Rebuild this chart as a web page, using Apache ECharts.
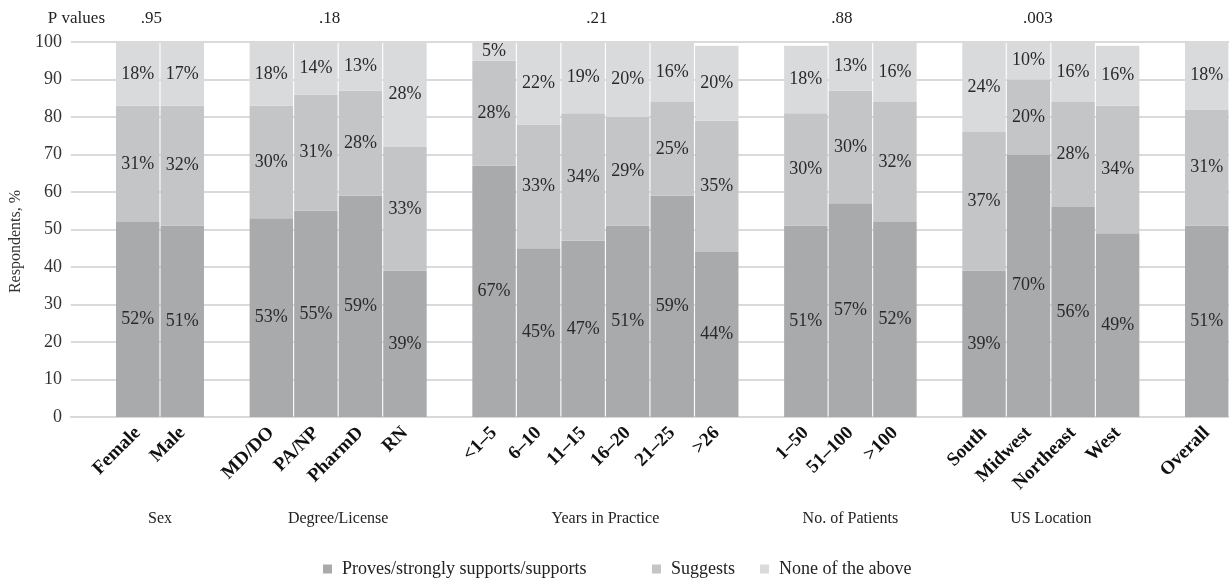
<!DOCTYPE html>
<html><head><meta charset="utf-8">
<script src="https://cdn.jsdelivr.net/npm/echarts@6/dist/echarts.min.js"></script>
<style>html,body{margin:0;padding:0;background:#fff}#c{width:1229px;height:587px}</style>
</head><body><div id="c"></div>
<script>
// ---- data ----
const categories = ['Female','Male','MD/DO','PA/NP','PharmD','RN','<1–5','6–10','11–15','16–20','21–25','>26','1–50','51–100','>100','South','Midwest','Northeast','West','Overall'];
const groupNames = ['Sex','Degree/License','Years in Practice','No. of Patients','US Location',''];
const groupSizes = [2,4,6,3,4,1];
const pValues = ['.95','.18','.21','.88','.003',''];
const pLabel = 'P values';
const proves   = [52,51,53,55,59,39,67,45,47,51,59,44,51,57,52,39,70,56,49,51];
const suggests = [31,32,30,31,28,33,28,33,34,29,25,35,30,30,32,37,20,28,34,31];
const noneAbove= [18,17,18,14,13,28, 5,22,19,20,16,20,18,13,16,24,10,16,16,18];
const seriesNames = ['Proves/strongly supports/supports','Suggests','None of the above'];
const yAxisName = 'Respondents, %';

// ---- build slots (a blank slot before each group) ----
const slots = [], slotIdx = [], groupFirst = [], groupLast = [];
let k = 0;
groupSizes.forEach((n, g) => {
  slots.push(' '.repeat(g + 1));
  groupFirst.push(slots.length);
  for (let i = 0; i < n; i++) { slotIdx.push(slots.length); slots.push(categories[k++]); }
  groupLast.push(slots.length - 1);
});
function expand(arr) { const out = slots.map(() => '-'); slotIdx.forEach((s, i) => out[s] = arr[i]); return out; }

const FONT = "'Liberation Serif', 'Times New Roman', serif";
const colors = ['#a9aaac', '#c4c5c7', '#d9dadc'];
const chart = echarts.init(document.getElementById('c'));

function mkSeries(name, data, color) {
  return {
    name, type: 'bar', stack: 'all', data: expand(data),
    barCategoryGap: '2.5%',
    itemStyle: { color },
    label: { show: true, position: 'inside', formatter: '{c}%', color: '#2a2a2a', fontFamily: FONT, fontSize: 18 },
    emphasis: { disabled: true }
  };
}

chart.setOption({
  animation: false,
  color: colors,
  grid: { left: 62, top: 42, width: 1170, bottom: 170, containLabel: false },
  xAxis: {
    type: 'category', data: slots,
    axisTick: { show: false },
    axisLine: { lineStyle: { color: '#d9d9d9', width: 2 } },
    axisLabel: { interval: 0, rotate: 45, margin: 13, fontFamily: FONT, fontWeight: 'bold', fontSize: 19, color: '#111' }
  },
  yAxis: {
    type: 'value', min: 0, max: 100, interval: 10,
    name: yAxisName, nameLocation: 'middle', nameGap: 42, nameRotate: 90,
    nameTextStyle: { fontFamily: FONT, fontSize: 16, color: '#333', padding: [0, 24, 0, 0] },
    axisLine: { show: false }, axisTick: { show: false },
    axisLabel: { fontFamily: FONT, fontSize: 18, color: '#333', margin: 9 },
    splitLine: { lineStyle: { color: '#dadada', width: 2 } }
  },
  legend: [
    { data: [seriesNames[0]], left: 318, top: 555, icon: 'rect', itemWidth: 9, itemHeight: 9,
      textStyle: { fontFamily: FONT, fontSize: 18, color: '#222', padding: [0, 0, 0, 5] } },
    { data: [seriesNames[1], seriesNames[2]], left: 647, top: 555, icon: 'rect', itemWidth: 9, itemHeight: 9, itemGap: 25,
      textStyle: { fontFamily: FONT, fontSize: 18, color: '#222', padding: [0, 0, 0, 5] } }
  ],
  series: [
    mkSeries(seriesNames[0], proves, colors[0]),
    mkSeries(seriesNames[1], suggests, colors[1]),
    mkSeries(seriesNames[2], noneAbove, colors[2])
  ]
});

// ---- group labels and p values placed via the axis scale ----
const els = [];
els.push({ type: 'text', right: 1229 - 105, top: 10, style: { text: pLabel, font: '17px ' + FONT, fill: '#222', textAlign: 'right' } });
groupNames.forEach((g, i) => {
  const x1 = chart.convertToPixel({ xAxisIndex: 0 }, groupFirst[i]);
  const x2 = chart.convertToPixel({ xAxisIndex: 0 }, groupLast[i]);
  const cx = (x1 + x2) / 2;
  if (g) els.push({ type: 'text', x: cx, y: 519, style: { text: g, font: '16px ' + FONT, fill: '#222', align: 'center', verticalAlign: 'middle' } });
  if (pValues[i]) els.push({ type: 'text', x: cx + 2, y: 19, style: { text: pValues[i], font: '17px ' + FONT, fill: '#222', align: 'right', verticalAlign: 'middle' } });
});
chart.setOption({ graphic: els });
</script></body></html>
